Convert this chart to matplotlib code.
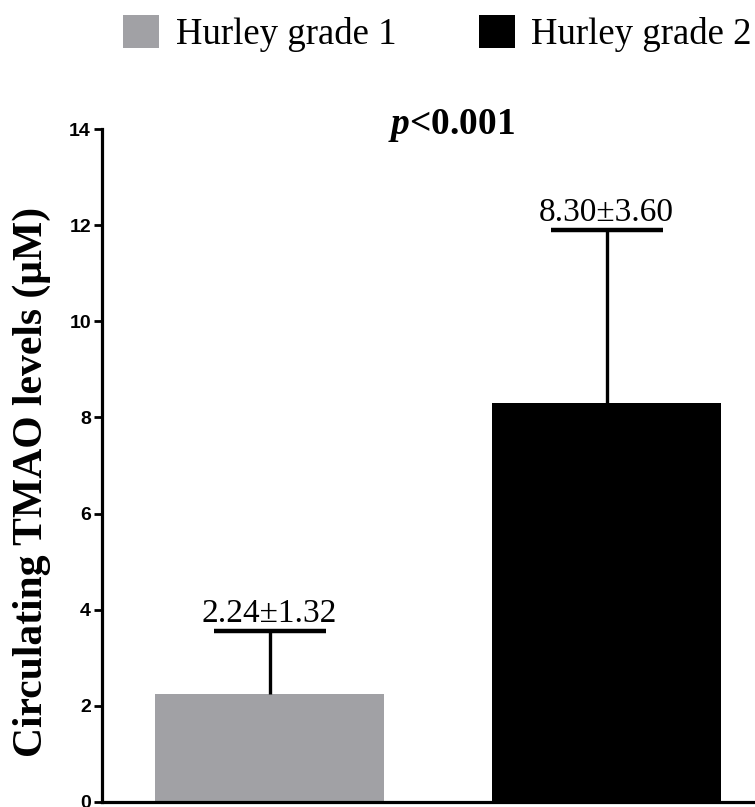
"""Circulating TMAO by Hurley grade: two-bar chart with upper SD error bars."""

import matplotlib

matplotlib.use("Agg")
import matplotlib.pyplot as plt
import numpy as np
from matplotlib.patches import Patch

# ---------- Data --------------------------------------------------------------

GROUPS = ["Hurley grade 1", "Hurley grade 2"]
MEANS = [2.24, 8.30]
SDS = [1.32, 3.60]
LABELS = ["2.24\u00b11.32", "8.30\u00b13.60"]
COLORS = ["#a1a1a5", "#000000"]
Y_TICKS = [0, 2, 4, 6, 8, 10, 12, 14]
P_TEXT = "$p$<0.001"

SERIF = ["Liberation Serif", "DejaVu Serif"]
SANS = ["Liberation Sans", "DejaVu Sans"]

# bold italic serif for the math-mode "p"
plt.rcParams["mathtext.fontset"] = "custom"
plt.rcParams["mathtext.it"] = "Liberation Serif:italic:bold"
plt.rcParams["mathtext.rm"] = "Liberation Serif:bold"

BAR_W = 0.68
CAP_HALF = 0.166  # half-width of the error-bar cap, in bar units

# ---------- Figure ------------------------------------------------------------

fig = plt.figure(figsize=(7.55, 8.07), dpi=100)
ax = fig.add_axes([102 / 755, 5 / 807, 1 - 102 / 755, (802 - 129) / 807])

x = np.arange(len(GROUPS))
means = np.array(MEANS)
tops = means + np.array(SDS)

ax.bar(x, means, width=BAR_W, color=COLORS, zorder=2)
# upper-only error bars
ax.vlines(x, means, tops, colors="black", linewidth=2.4, zorder=3)
ax.hlines(tops, x - CAP_HALF, x + CAP_HALF, colors="black", linewidth=3.2, zorder=3)

for xi, top, lab in zip(x, tops, LABELS):
    ax.annotate(lab, (xi, top), xytext=(0, 1.5), textcoords="offset points",
                ha="center", va="bottom", fontsize=24, family=SERIF)

ax.set_xlim(-0.497, 1.44)
ax.set_ylim(0, 14)
ax.set_yticks(Y_TICKS)
ax.set_xticks([])
for lab in ax.get_yticklabels():
    lab.set_fontfamily(SANS)
    lab.set_fontweight("bold")
    lab.set_fontsize(14)
ax.tick_params(axis="y", length=6, width=2, pad=2)

for side in ("top", "right"):
    ax.spines[side].set_visible(False)
for side in ("left", "bottom"):
    ax.spines[side].set_linewidth(2.3)

ax.set_ylabel("Circulating TMAO levels (\u03bcM)", fontsize=30,
              fontweight="bold", family=SERIF)
ax.yaxis.set_label_coords(-0.078, 0.475)

fig.text(452 / 755, 1 - 125 / 807, P_TEXT, ha="center", va="center",
         fontsize=27, fontweight="bold", family=SERIF)

handles = [Patch(facecolor=c, edgecolor="none") for c in COLORS]
fig.legend(handles, GROUPS, loc="upper left",
           bbox_to_anchor=(123 / 755, 1 - 15 / 807),
           ncol=2, frameon=False, prop={"family": SERIF, "size": 26.5},
           handlelength=0.98, handleheight=1.0, handletextpad=0.45,
           columnspacing=2.24, borderaxespad=0, borderpad=0)

fig.savefig("out.png", dpi=100)
